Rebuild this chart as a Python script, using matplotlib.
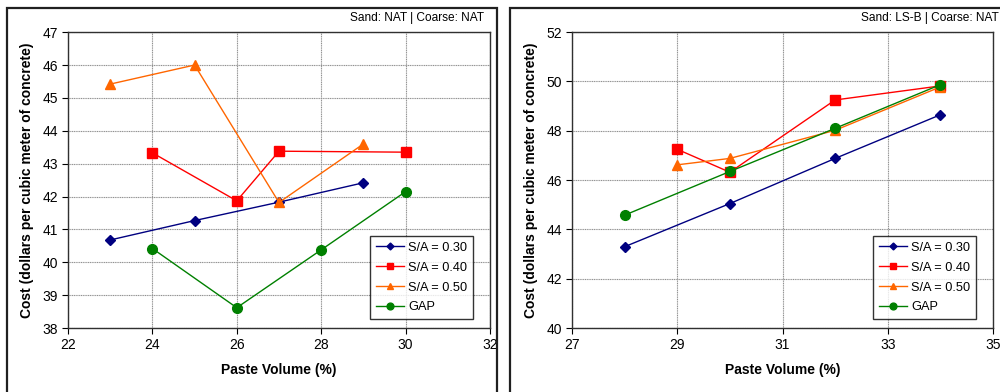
import matplotlib.pyplot as plt
from matplotlib.patches import Rectangle

# paste volume (%) and cost for each mix series
nat_sa30_x = [23, 25, 27, 29]
nat_sa30_y = [40.68, 41.27, 41.83, 42.42]
nat_sa40_x = [24, 26, 27, 30]
nat_sa40_y = [43.33, 41.87, 43.38, 43.35]
nat_sa50_x = [23, 25, 27, 29]
nat_sa50_y = [45.42, 46.0, 41.82, 43.6]
nat_gap_x = [24, 26, 28, 30]
nat_gap_y = [40.42, 38.62, 40.38, 42.15]

lsb_sa30_x = [28, 30, 32, 34]
lsb_sa30_y = [43.3, 45.05, 46.88, 48.65]
lsb_sa40_x = [29, 30, 32, 34]
lsb_sa40_y = [47.25, 46.32, 49.25, 49.82]
lsb_sa50_x = [29, 30, 32, 34]
lsb_sa50_y = [46.62, 46.88, 48.02, 49.78]
lsb_gap_x = [28, 30, 32, 34]
lsb_gap_y = [44.58, 46.35, 48.1, 49.87]

labels = ["S/A = 0.30", "S/A = 0.40", "S/A = 0.50", "GAP"]
colors = ["#000080", "#FF0000", "#FF6600", "#008000"]
markers = ["D", "s", "^", "o"]
msizes = [5, 6.5, 7, 7]

plt.rcParams['font.family'] = ['Liberation Sans', 'DejaVu Sans']

fig = plt.figure(figsize=(10, 3.92), dpi=100)

# panel borders
fig.patches.append(Rectangle((0.007, -0.05), 0.49, 1.03, transform=fig.transFigure,
                             fill=False, edgecolor='#202020', lw=1.6))
fig.patches.append(Rectangle((0.510, -0.05), 0.52, 1.03, transform=fig.transFigure,
                             fill=False, edgecolor='#202020', lw=1.6))


def draw_panel(ax, series, xlim, xticks, ylim, yticks, note, note_x):
    for (x, y), lab, c, m, ms in zip(series, labels, colors, markers, msizes):
        ax.plot(x, y, color=c, marker=m, markersize=ms, lw=1.0, label=lab)
    ax.set_xlim(*xlim)
    ax.set_ylim(*ylim)
    ax.set_xticks(xticks)
    ax.set_yticks(yticks)
    ax.grid(True, color='#909090', lw=0.8, linestyle=(0, (1, 0.6)))
    ax.tick_params(direction='out', length=4, labelsize=10, pad=3)
    for s in ax.spines.values():
        s.set_color('#303030')
        s.set_linewidth(1.0)
    ax.set_xlabel("Paste Volume (%)", fontsize=10, fontweight='bold', labelpad=8)
    ax.set_ylabel("Cost (dollars per cubic meter of concrete)", fontsize=10,
                  fontweight='bold', labelpad=6)
    leg = ax.legend(loc='lower right', fontsize=9.2, frameon=True, fancybox=False,
                    borderpad=0.45, handlelength=2.2, handletextpad=0.35,
                    labelspacing=0.62, markerscale=0.7,
                    bbox_to_anchor=(0.96, 0.03), borderaxespad=0)
    leg.get_frame().set_edgecolor('black')
    leg.get_frame().set_linewidth(1.0)
    fig.text(note_x, 0.955, note, fontsize=8.6, ha='right', va='center')


ax1 = fig.add_axes([0.068, 0.163, 0.422, 0.755])
draw_panel(ax1,
           [(nat_sa30_x, nat_sa30_y), (nat_sa40_x, nat_sa40_y),
            (nat_sa50_x, nat_sa50_y), (nat_gap_x, nat_gap_y)],
           (22, 32), range(22, 33, 2), (38, 47), range(38, 48),
           "Sand: NAT | Coarse: NAT", 0.484)

ax2 = fig.add_axes([0.572, 0.163, 0.421, 0.755])
draw_panel(ax2,
           [(lsb_sa30_x, lsb_sa30_y), (lsb_sa40_x, lsb_sa40_y),
            (lsb_sa50_x, lsb_sa50_y), (lsb_gap_x, lsb_gap_y)],
           (27, 35), range(27, 36, 2), (40, 52), range(40, 53, 2),
           "Sand: LS-B | Coarse: NAT", 0.999)

fig.savefig("out.png", dpi=100)
